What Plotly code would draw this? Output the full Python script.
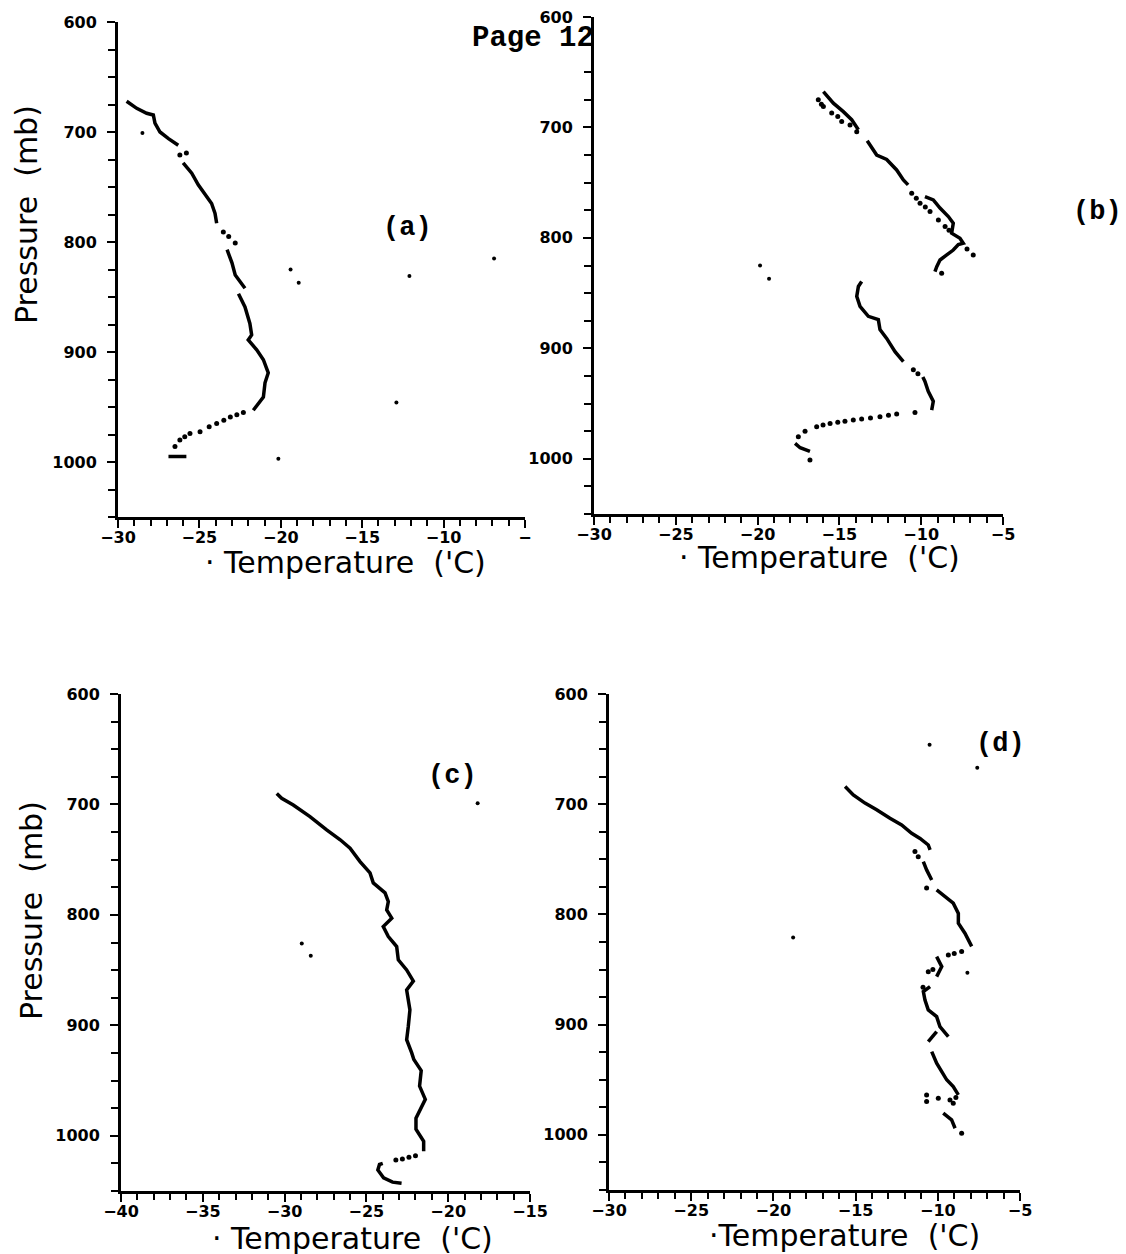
import plotly.graph_objects as go

# ---------------- Panel (a) ----------------
a_line_temp = [-29.47, -28.85, -28.24, -27.83, -27.73, -27.42, -26.9, -26.3, None,
               -26.0, -25.47, -25.07, -24.66, -24.25, -24.04, -23.94, None,
               -23.3, -23.0, -22.8, -22.2, None,
               -22.6, -22.2, -21.9, -21.79, -22.0, -21.48, -21.07, -20.77, -20.97, -21.07, -21.69, None,
               -26.9, -25.8]
a_line_pres = [672, 678.5, 683, 684.5, 692, 700, 706, 712, None,
               728, 737.5, 748, 756, 765, 774, 783, None,
               807, 819, 830, 842, None,
               847, 859, 874, 884.5, 889, 898, 907, 919, 928, 941, 953, None,
               995, 995]
a_dot_temp = [-26.2, -25.8, -23.53, -23.2, -22.8, -22.3, -22.7, -23.1, -23.5, -23.94, -24.4,
              -24.96, -25.58, -25.9, -26.2, -26.5]
a_dot_pres = [721, 719, 791, 795, 801, 955, 957, 959, 962, 965, 968, 972.5, 974, 977, 980, 986]
a_stray_temp = [-28.5, -19.4, -18.9, -12.1, -12.9, -20.15, -6.9]
a_stray_pres = [701, 825, 837, 831, 946, 997, 815]

# ---------------- Panel (b) ----------------
b_line_temp = [-15.98, -15.37, -14.76, -14.25, -13.84, None,
               -13.3, -12.72, -12.11, -11.5, -11.09, -10.8, None,
               -9.77, -9.26, -8.85, -8.34, -8.04, -8.14, -7.63, -7.43, -7.73, -8.04, -8.44, -8.85, -9.05, -9.16, None,
               -13.64, -13.84, -13.94, -13.74, -13.23, -12.62, -12.52, -12.11, -11.6, -11.09, None,
               -9.9, -9.77, -9.57, -9.26, -9.36, None,
               -17.71, -17.4, -16.8]
b_line_pres = [667.6, 678, 685.7, 693, 702, None,
               712, 725, 729, 738.5, 747.5, 752, None,
               762.6, 765.6, 773, 780.7, 786.7, 795.7, 800.3, 804.8, 806, 811, 815.4, 820, 826, 830.5, None,
               839.5, 844, 853, 862, 871, 874, 883, 891, 903, 912, None,
               926, 930, 939, 948, 956, None,
               986, 990, 993.4]
b_dot_temp = [-16.29, -16.1, -15.98, -15.47, -15.1, -14.86, -14.35, -13.94,
              -10.58, -10.3, -10.07, -9.75, -9.46, -8.95, -8.54, -8.3,
              -7.2, -6.82, -8.75, -10.48, -10.2,
              -10.38, -11.5, -12.0, -12.52, -13.1, -13.64, -14.15, -14.66, -15.1, -15.57, -16.0,
              -16.39, -17.1, -17.51, -16.8]
b_dot_pres = [675, 679, 681, 687, 690, 694.7, 697.7, 703.8,
              759.5, 764, 768.6, 772, 776, 783.7, 789.8, 793,
              810, 815.4, 832, 919.5, 923,
              958, 959.5, 960.5, 962, 963, 964, 965, 966, 967, 968, 969.5,
              971, 975, 980, 1001]
b_stray_temp = [-19.85, -19.3]
b_stray_pres = [825, 837]

# ---------------- Panel (c) ----------------
c_line_temp = [-30.48, -30.18, -29.47, -28.45, -27.43, -26.6, -26.0, -25.39, -24.78, -24.58, -23.86,
               -23.66, -23.76, -23.45, -23.97, -23.66, -23.15, -23.05, -22.54, -22.13, -22.54, -22.34,
               -22.44, -22.54, -22.23, -22.1, -21.65, -21.75, -21.4, -21.97, -21.97, -21.5, -21.5, None,
               -24.0, -24.2, -24.3, -23.95, -23.4, -22.85]
c_line_pres = [690, 694.4, 700.5, 711, 723, 732, 739.7, 751.7, 762, 771, 780,
               788, 795.5, 803, 810.6, 819.6, 828.7, 840.7, 849.8, 860, 868, 886,
               901, 913, 925, 931, 941, 955, 967, 984, 994, 1005, 1014, None,
               1025, 1026, 1031, 1038, 1042, 1043]
c_dot_temp = [-22.0, -22.4, -22.8, -23.2]
c_dot_pres = [1018, 1019.5, 1021, 1022]
c_stray_temp = [-28.95, -28.4, -18.2]
c_stray_pres = [826, 837, 699]

# ---------------- Panel (d) ----------------
d_line_temp = [-15.64, -15.14, -14.43, -13.72, -12.91, -12.2, -11.59, -11.08, -10.58, -10.47, None,
               -10.88, -10.68, -10.37, None,
               -10.07, -9.56, -9.06, -8.75, -8.75, -8.35, -7.94, None,
               -10.07, -9.76, -10.07, None,
               -10.47, -10.88, -10.78, -10.58, -10.07, -9.87, -9.36, None,
               -10.07, -10.58, None,
               -10.37, -10.07, -9.76, -9.46, -9.06, -8.75, None,
               -9.67, -9.16, -8.95]
d_line_pres = [684, 691.6, 699, 705, 712.8, 718.8, 726.4, 731, 737, 741.5, None,
               752, 759.6, 768.7, None,
               777.8, 783.8, 789.8, 799, 808, 817, 829, None,
               838.3, 847.3, 856.4, None,
               865.5, 870, 877.6, 886.6, 892.7, 901.8, 910.8, None,
               906.3, 915.4, None,
               924.4, 935, 942.6, 950, 956.2, 963.7, None,
               980.3, 986.4, 994]
d_dot_temp = [-11.39, -11.19, -10.68, -8.55, -9.0, -9.36, -10.58, -10.3, -10.9,
              -10.68, -10.68, -9.97, -9.26, -9.06, -8.9, -8.55]
d_dot_pres = [743, 747.6, 776, 833.7, 835.5, 836.7, 852, 850, 866,
              963.7, 969.8, 966.7, 968.3, 971.3, 966, 998.5]
d_stray_temp = [-10.5, -7.6, -18.8, -8.2]
d_stray_pres = [646, 667, 821, 853]

# ---------------- Axis tick labels ----------------
pres_ticks = [600, 700, 800, 900, 1000]
pres_labels = ["600", "700", "800", "900", "1000"]
temp_ticks_30 = [-30, -25, -20, -15, -10, -5]
temp_labels_a = ["\u221230", "\u221225", "\u221220", "\u221215", "\u221210", "\u2212"]
temp_labels_30 = ["\u221230", "\u221225", "\u221220", "\u221215", "\u221210", "\u22125"]
temp_ticks_40 = [-40, -35, -30, -25, -20, -15]
temp_labels_40 = ["\u221240", "\u221235", "\u221230", "\u221225", "\u221220", "\u221215"]

W, H = 1126, 1254
OFF = 8  # page body margin offset compensation

def fx(px):
    return (px - OFF) / W

def fy(py):
    return 1 - (py - OFF) / H

panels = [
    ("x", "y", (a_line_temp, a_line_pres, a_dot_temp, a_dot_pres, a_stray_temp, a_stray_pres),
     (118, 525), (22, 517), [-30, -5], temp_ticks_30, temp_labels_a),
    ("x2", "y2", (b_line_temp, b_line_pres, b_dot_temp, b_dot_pres, b_stray_temp, b_stray_pres),
     (594, 1003), (17, 514), [-30, -5], temp_ticks_30, temp_labels_30),
    ("x3", "y3", (c_line_temp, c_line_pres, c_dot_temp, c_dot_pres, c_stray_temp, c_stray_pres),
     (121, 530), (694, 1191), [-40, -15], temp_ticks_40, temp_labels_40),
    ("x4", "y4", (d_line_temp, d_line_pres, d_dot_temp, d_dot_pres, d_stray_temp, d_stray_pres),
     (609, 1020), (694, 1190), [-30, -5], temp_ticks_30, temp_labels_30),
]

fig = go.Figure()
tickfont = dict(family="DejaVu Sans", size=16, color="black", weight="bold")
layout = {}
for i, (xr, yr, data, xd, yd, xrng, tv, tt) in enumerate(panels):
    lt, lp, dt, dp, st, sp = data
    fig.add_trace(go.Scatter(x=lt, y=lp, xaxis=xr, yaxis=yr, mode="lines",
                             line=dict(color="black", width=3.5), connectgaps=False,
                             hoverinfo="skip"))
    fig.add_trace(go.Scatter(x=dt, y=dp, xaxis=xr, yaxis=yr, mode="markers",
                             marker=dict(color="black", size=5), hoverinfo="skip"))
    fig.add_trace(go.Scatter(x=st, y=sp, xaxis=xr, yaxis=yr, mode="markers",
                             marker=dict(color="black", size=4), hoverinfo="skip"))
    xkey = "xaxis" if i == 0 else f"xaxis{i+1}"
    ykey = "yaxis" if i == 0 else f"yaxis{i+1}"
    layout[xkey] = dict(
        domain=[fx(xd[0]), fx(xd[1])], range=xrng, anchor=yr, automargin=False,
        showline=True, linecolor="black", linewidth=3, mirror=False,
        showgrid=False, zeroline=False,
        ticks="outside", ticklen=8, tickwidth=2, tickcolor="black",
        ticklabelstandoff=-4, ticklabeloverflow="allow",
        tickmode="array", tickvals=tv, ticktext=tt, tickfont=tickfont,
        minor=dict(tickmode="linear", tick0=xrng[0], dtick=1, ticks="outside",
                   ticklen=6, tickwidth=2, tickcolor="black", showgrid=False),
        fixedrange=True,
    )
    layout[ykey] = dict(
        domain=[fy(yd[1]), fy(yd[0])], range=[1050, 600], anchor=xr, automargin=False,
        showline=True, linecolor="black", linewidth=3, mirror=False,
        showgrid=False, zeroline=False,
        ticks="outside", ticklen=8, tickwidth=2, tickcolor="black",
        ticklabelstandoff=7, ticklabeloverflow="allow",
        tickmode="array", tickvals=pres_ticks, ticktext=pres_labels, tickfont=tickfont,
        minor=dict(tickmode="linear", tick0=600, dtick=25, ticks="outside",
                   ticklen=7, tickwidth=2, tickcolor="black", showgrid=False),
        fixedrange=True,
    )

title_font = dict(family="DejaVu Sans", size=30, color="black")
label_font = dict(family="Liberation Mono", size=27, color="black", weight="bold")

def ann(text, x, y, font, angle=0):
    return dict(text=text, x=fx(x), y=fy(y), xref="paper", yref="paper",
                xanchor="center", yanchor="middle", showarrow=False, font=font,
                textangle=angle)

annotations = [
    ann("\u00b7 Temperature  ('C)", 345, 562, title_font),
    ann("\u00b7 Temperature  ('C)", 819, 557, title_font),
    ann("\u00b7 Temperature  ('C)", 352, 1238, title_font),
    ann("\u00b7Temperature  ('C)", 844, 1235, title_font),
    ann("Pressure  (mb)", 26, 215, title_font, -90),
    ann("Pressure  (mb)", 31, 911, title_font, -90),
    ann("(a)", 407, 228, label_font),
    ann("(b)", 1097, 212, label_font),
    ann("(c)", 452, 776, label_font),
    ann("(d)", 1000, 744, label_font),
    ann("Page 12", 533, 38, dict(family="Liberation Mono", size=29, color="black", weight="bold")),
]

fig.update_layout(
    width=W, height=H,
    margin=dict(l=0, r=0, t=0, b=0, autoexpand=False),
    paper_bgcolor="white", plot_bgcolor="white",
    showlegend=False, hovermode=False,
    annotations=annotations,
    **layout,
)

fig.write_html("out.html")
